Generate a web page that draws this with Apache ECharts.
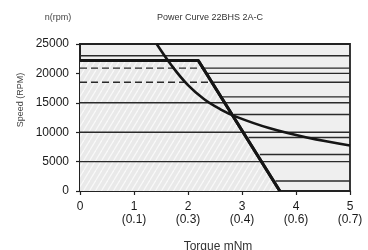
<!DOCTYPE html>
<html><head><meta charset="utf-8">
<script src="https://cdn.jsdelivr.net/npm/echarts@6/dist/echarts.min.js"></script>
<style>html,body{margin:0;padding:0;background:#fff}#c{width:368px;height:250px}</style>
</head><body><div id="c"></div>
<script>
// ---- data ----
var xTickTop = ['0', '1', '2', '3', '4', '5'];
var xTickBottom = ['', '(0.1)', '(0.3)', '(0.4)', '(0.6)', '(0.7)'];
var yTicks = [0, 5000, 10000, 15000, 20000, 25000];

// motor characteristic (thick line): plateau then linear drop
var motorTorque = [0, 2.19, 3.70];
var motorSpeed = [22200, 22200, 0];

// power curve (hyperbola)
var powerTorque = [1.42, 1.7, 2.0, 2.3, 2.6, 2.9, 3.5, 4.2, 5.0];
var powerSpeed = [25000, 21300, 18000, 15600, 13900, 12600, 10700, 9100, 7750];

// full-width horizontal lines
var fullLevels = [23000, 15000, 10000, 5000];
// horizontal lines starting at the drop line
var partialLevels = [20000, 16000, 13000, 9100, 6200, 1700];
var partialStart = [2.36, 2.63, 2.85, 3.12, 3.33, 3.62];
// dashed left part, solid right part
var dashedLevels = [20900, 18500];
var dashedEnd = [2.28, 2.44];

var xMax = 5;

// ---- chart ----
var chart = echarts.init(document.getElementById('c'), null, {renderer: 'canvas'});

var tile = document.createElement('canvas');
tile.width = 6; tile.height = 10;
var g = tile.getContext('2d');
g.fillStyle = '#e9e9e9'; g.fillRect(0, 0, 6, 10);
g.strokeStyle = 'rgba(255,255,255,0.7)'; g.lineWidth = 1.2;
[[-6, 0], [0, 0], [6, 0]].forEach(function (o) {
  g.beginPath(); g.moveTo(o[0], 10); g.lineTo(o[0] + 6, 0); g.stroke();
});

var FONT = 'Liberation Sans, Arial, sans-serif';
var lineCol = '#2a2a2a';
var series = [];

function seg(data, w, type) {
  series.push({type: 'line', data: data, symbol: 'none', silent: true,
    lineStyle: {color: lineCol, width: w, type: type || 'solid'}, z: 3});
}
fullLevels.forEach(function (v) { seg([[0, v], [xMax, v]], 1.4); });
partialLevels.forEach(function (v, i) { seg([[partialStart[i], v], [xMax, v]], 1.4); });
dashedLevels.forEach(function (v, i) {
  seg([[0, v], [dashedEnd[i], v]], 1.4, [7, 4]);
  seg([[dashedEnd[i], v], [xMax, v]], 1.4);
});

series.push({
  type: 'line', symbol: 'none', silent: true, z: 2,
  data: motorTorque.map(function (t, i) { return [t, motorSpeed[i]]; }),
  lineStyle: {color: '#151515', width: 3},
  areaStyle: {color: {image: tile, repeat: 'repeat'}, opacity: 1}
});
series.push({
  type: 'line', symbol: 'none', silent: true, z: 5,
  data: motorTorque.map(function (t, i) { return [t, motorSpeed[i]]; }),
  lineStyle: {color: '#151515', width: 3}
});
series.push({
  type: 'line', symbol: 'none', silent: true, smooth: 0.4, z: 5,
  data: powerTorque.map(function (t, i) { return [t, powerSpeed[i]]; }),
  lineStyle: {color: '#151515', width: 2.6}
});

chart.setOption({
  animation: false,
  backgroundColor: '#fff',
  grid: {left: 80, right: 18, top: 44, bottom: 59, show: true,
    backgroundColor: '#efefef', borderColor: '#222', borderWidth: 1.8},
  xAxis: {
    type: 'value', min: 0, max: xMax, interval: 1,
    axisLine: {show: true, lineStyle: {color: '#222', width: 2}},
    axisTick: {show: true, length: 4, lineStyle: {color: '#222', width: 1.2}},
    splitLine: {show: false},
    axisLabel: {
      margin: 9, color: '#1a1a1a', fontFamily: FONT, fontSize: 12, lineHeight: 13,
      formatter: function (v) {
        var i = xTickTop.indexOf(String(v));
        if (i < 0) return '';
        return xTickBottom[i] ? xTickTop[i] + '\n' + xTickBottom[i] : xTickTop[i];
      }
    }
  },
  yAxis: {
    type: 'value', min: yTicks[0], max: yTicks[yTicks.length - 1], interval: 5000,
    axisLine: {show: true, lineStyle: {color: '#222', width: 2}},
    axisTick: {show: true, length: 4, lineStyle: {color: '#222', width: 1.2}},
    splitLine: {show: false},
    axisLabel: {margin: 11, color: '#1a1a1a', fontFamily: FONT, fontSize: 12,
      formatter: function (v) { return String(v); }}
  },
  graphic: [
    {type: 'text', x: 210, y: 18, style: {text: 'Power Curve 22BHS 2A-C', fill: '#333',
      font: '9px ' + FONT, textAlign: 'center', textVerticalAlign: 'middle'}},
    {type: 'text', x: 58, y: 18, style: {text: 'n(rpm)', fill: '#444',
      font: '9px ' + FONT, textAlign: 'center', textVerticalAlign: 'middle'}},
    {type: 'text', x: 21, y: 100, rotation: Math.PI / 2, style: {text: 'Speed (RPM)', fill: '#444',
      font: '9px ' + FONT, textAlign: 'center', textVerticalAlign: 'middle'}},
    {type: 'text', x: 218, y: 241, style: {text: 'Torque mNm', fill: '#333',
      font: '12px ' + FONT, textAlign: 'center', textVerticalAlign: 'top'}}
  ],
  series: series
});
</script></body></html>
